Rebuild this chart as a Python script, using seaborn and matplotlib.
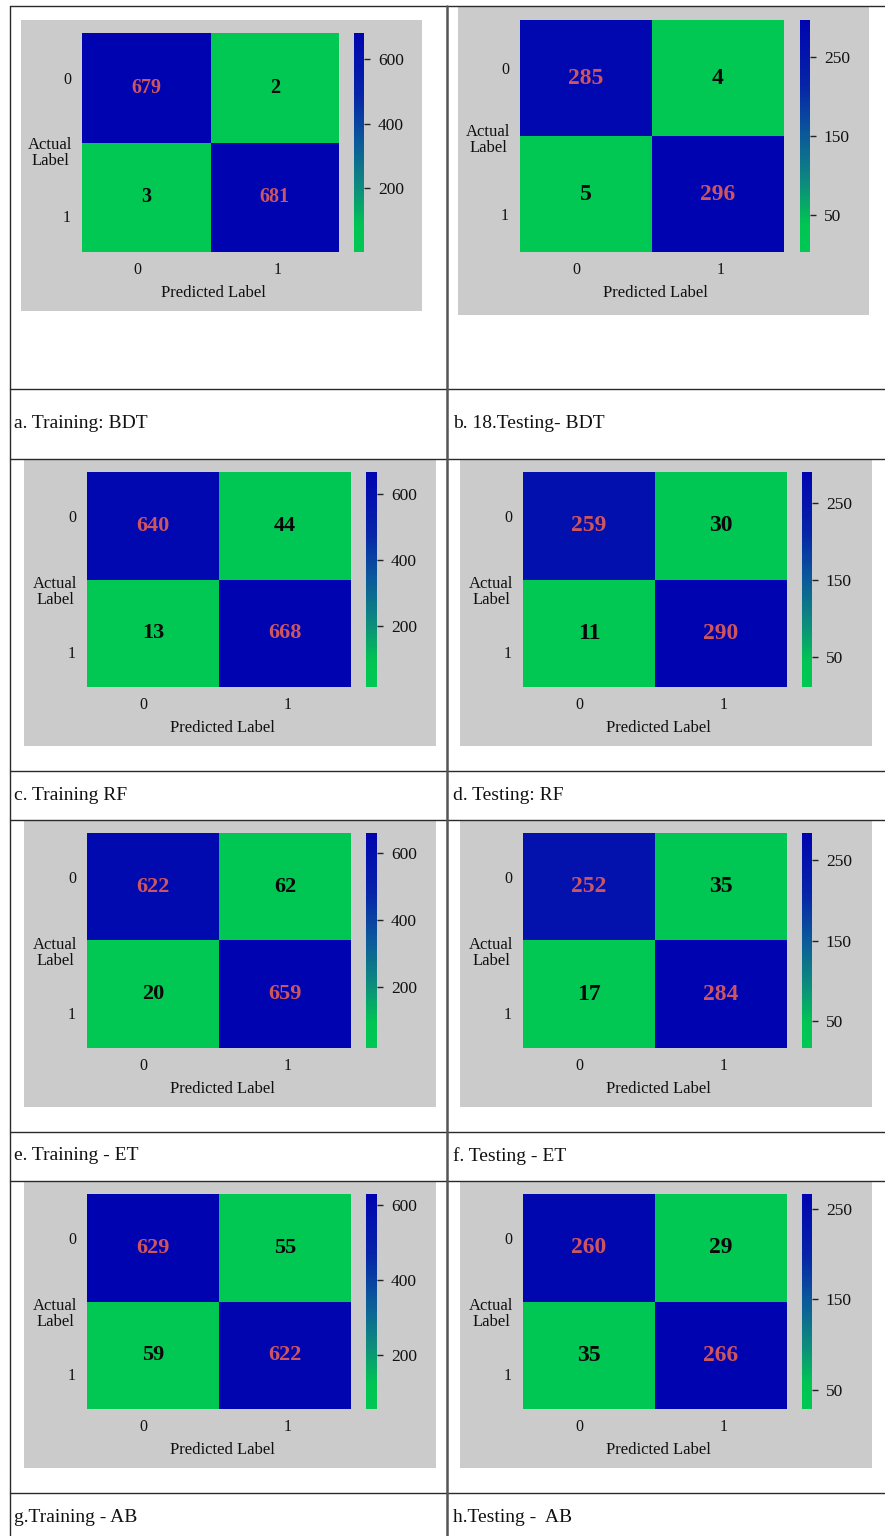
import numpy as np
import matplotlib
matplotlib.use("Agg")
import matplotlib.pyplot as plt
import seaborn as sns
from matplotlib.colors import LinearSegmentedColormap
from matplotlib.lines import Line2D
from matplotlib.patches import Rectangle

# Confusion matrices: rows = actual class, columns = predicted class
bdt_train = [[679, 2], [3, 681]]
bdt_test = [[285, 4], [5, 296]]
rf_train = [[640, 44], [13, 668]]
rf_test = [[259, 30], [11, 290]]
et_train = [[622, 62], [20, 659]]
et_test = [[252, 35], [17, 284]]
ab_train = [[629, 55], [59, 622]]
ab_test = [[260, 29], [35, 266]]

captions = ["a. Training: BDT", "b. 18.Testing- BDT",
            "c. Training RF", "d. Testing: RF",
            "e. Training - ET", "f. Testing - ET",
            "g.Training - AB", "h.Testing -  AB"]
class_labels = ["0", "1"]
train_cbar_ticks = [200, 400, 600]
test_cbar_ticks = [50, 150, 250]

matrices = [bdt_train, bdt_test, rf_train, rf_test,
            et_train, et_test, ab_train, ab_test]
cbar_ticks = [train_cbar_ticks, test_cbar_ticks] * 4

sns.set_style("white")
plt.rcParams["font.family"] = ["Liberation Serif", "DejaVu Serif"]

W, H = 885, 1536
fig = plt.figure(figsize=(W / 100, H / 100), dpi=100)
fig.patch.set_facecolor("white")

# green (low) -> teal -> deep blue (high), with a flat green foot
cmap = LinearSegmentedColormap.from_list(
    "green_blue",
    [(0.0, "#00c853"), (0.12, "#00c453"), (0.3, "#0d8a7e"),
     (0.5, "#0b5a9a"), (0.72, "#0624a8"), (1.0, "#0004b0")])


def box(x0, y0, x1, y1):
    """Pixel box (top-left origin) -> figure fraction rect."""
    return [x0 / W, 1 - y1 / H, (x1 - x0) / W, (y1 - y0) / H]


# pixel layout of each cell: gray panel, heatmap, colorbar
layouts = [
    dict(panel=(21, 20, 422, 311), heat=(82, 33, 339, 252), cbar=(354, 33, 364, 252), fs=14.5),
    dict(panel=(458, 7, 869, 315), heat=(520, 20, 784, 252), cbar=(800, 20, 810, 252), fs=17),
]
for y0 in (460, 821, 1182):
    layouts.append(dict(panel=(24, y0, 436, y0 + 286), heat=(87, y0 + 12, 351, y0 + 227),
                        cbar=(366, y0 + 12, 377, y0 + 227), fs=16))
    layouts.append(dict(panel=(460, y0, 872, y0 + 286), heat=(523, y0 + 12, 787, y0 + 227),
                        cbar=(802, y0 + 12, 812, y0 + 227), fs=17))

for mat, lay, ticks in zip(matrices, layouts, cbar_ticks):
    px0, py0, px1, py1 = lay["panel"]
    fig.add_artist(Rectangle((px0 / W, 1 - py1 / H), (px1 - px0) / W, (py1 - py0) / H,
                             transform=fig.transFigure, facecolor="#cbcbcb",
                             edgecolor="none", zorder=0))
    hx0, hy0, hx1, hy1 = lay["heat"]
    hw, hh = hx1 - hx0, hy1 - hy0
    ax = fig.add_axes(box(*lay["heat"]))
    cax = fig.add_axes(box(*lay["cbar"]))
    data = np.array(mat)
    sns.heatmap(data, ax=ax, cbar_ax=cax, cmap=cmap, annot=True, fmt="d",
                annot_kws=dict(fontsize=lay["fs"], fontweight="bold"),
                xticklabels=class_labels, yticklabels=class_labels)
    for t in ax.texts:
        x, y = t.get_position()
        t.set_color("#cc5560" if int(x) == int(y) else "#080808")

    ax.set_xticks([0.43, 1.52], class_labels)
    ax.set_yticks([0.43, 1.69], class_labels, rotation=0)
    ax.tick_params(axis="x", length=0, pad=7.5, labelsize=11.5, colors="#111111")
    ax.tick_params(axis="y", length=0, pad=8, labelsize=11.5, colors="#111111")
    ax.set_xlabel("Predicted Label", fontsize=12, color="#111111", va="center")
    ax.xaxis.set_label_coords(0.5 + 3 / hw, -41 / hh)
    ax.set_ylabel("Actual\nLabel", fontsize=12, color="#111111", rotation=0,
                  ha="center", va="center", multialignment="center", linespacing=1.0)
    ax.yaxis.set_label_coords(-32 / hw, 1 - 120 / hh)

    cax.set_yticks(ticks)
    cax.tick_params(axis="y", right=True, length=4, width=1, color="#222222",
                    pad=6, labelsize=12.5, labelcolor="#111111")

# table grid
line_kw = dict(transform=fig.transFigure, color="#2a2a2a", linewidth=1.0)
for y in (6, 389, 459, 771, 820, 1132, 1181, 1493):
    fig.add_artist(Line2D([10 / W, 1], [1 - y / H] * 2, **line_kw))
fig.add_artist(Line2D([10 / W] * 2, [0, 1 - 6 / H], **line_kw))
fig.add_artist(Line2D([447 / W] * 2, [0, 1 - 6 / H], transform=fig.transFigure,
                      color="#555555", linewidth=1.8))

# captions
caption_y = [424, 795, 1156, 1517]
for i, cap in enumerate(captions):
    x = 14 if i % 2 == 0 else 453
    y = caption_y[i // 2]
    fig.text(x / W, 1 - y / H, cap, fontsize=14, color="#111111",
             ha="left", va="center")

fig.savefig("out.png", dpi=100, facecolor="white")
